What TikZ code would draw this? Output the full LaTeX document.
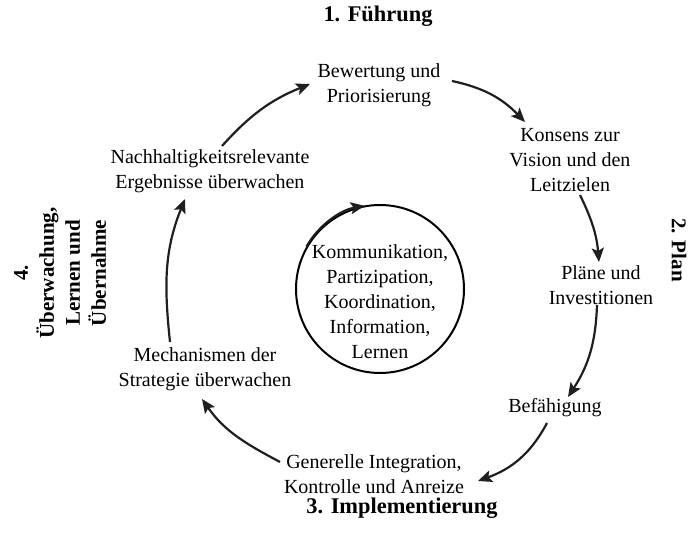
\documentclass[tikz,border=0pt]{standalone}
\usepackage{fontspec}
\setmainfont{Liberation Serif}
\usetikzlibrary{arrows.meta,calc}
\begin{document}
\begin{tikzpicture}[x=0.5pt,y=0.5pt,
  lbl/.style={align=center,font=\fontsize{10}{12.5}\selectfont,inner sep=2pt},
  ttl/.style={align=center,font=\fontsize{10.5}{13}\selectfont\bfseries,inner sep=0pt},
  bigttl/.style={ttl,font=\fontsize{11.2}{13}\selectfont\bfseries},
  arr/.style={-{Stealth[length=7pt,width=6pt,inset=1.5pt]},line width=1.1pt,black!88}]
\useasboundingbox (0,0) rectangle (691,542);

% titles
\node[bigttl] (t1) at (378,526) {1. Führung};
\node[ttl,rotate=-90] (t2) at (679,292) {2. Plan};
\node[bigttl] (t3) at (402,34) {3. Implementierung};
\node[ttl,rotate=90] (t4) at (60,269) {4.\\Überwachung,\\Lernen und\\Übernahme};

% cycle steps
\node[lbl] (bew) at (379,457) {Bewertung und\\Priorisierung};
\node[lbl] (kon) at (570,382) {Konsens zur\\Vision und den\\Leitzielen};
\node[lbl] (pla) at (601,257) {Pläne und\\Investitionen};
\node[lbl] (bef) at (555,134) {Befähigung};
\node[lbl] (gen) at (374,68) {Generelle Integration,\\Kontrolle und Anreize};
\node[lbl] (mec) at (205,173) {Mechanismen der\\Strategie überwachen};
\node[lbl] (nac) at (210,371) {Nachhaltigkeitsrelevante\\Ergebnisse überwachen};

% hub
\node[draw,circle,line width=1pt,minimum size=84pt,inner sep=0pt] (hub) at (380,253) {};
\node[lbl] (hubtext) at (380,240) {Kommunikation,\\Partizipation,\\Koordination,\\Information,\\Lernen};
\draw[arr,line width=1pt] (hub.150) arc[start angle=150,end angle=100,radius=42pt];

% cycle arrows
\draw[arr] ($(nac.center)+(12,25)$) to[out=48,in=202] ($(bew.center)+(-69,1)$);
\draw[arr] ($(bew.center)+(73,4)$) to[out=-12,in=134] ($(kon.center)+(-45,38)$);
\draw[arr] ($(kon.center)+(10,-35)$) to[out=-64,in=95] ($(pla.center)+(-2,23)$);
\draw[arr] ($(pla.center)+(-4,-20)$) to[out=-92,in=57] ($(bef.center)+(13,11)$);
\draw[arr] ($(bef.center)+(-8,-15)$) to[out=-118,in=20] ($(gen.center)+(104,-7)$);
\draw[arr] ($(gen.center)+(-94,12)$) to[out=152,in=-55] ($(mec.center)+(-3,-30)$);
\draw[arr] ($(mec.center)+(-35,27)$) to[out=96,in=-112] ($(nac.center)+(-25,-28)$);
\end{tikzpicture}
\end{document}
